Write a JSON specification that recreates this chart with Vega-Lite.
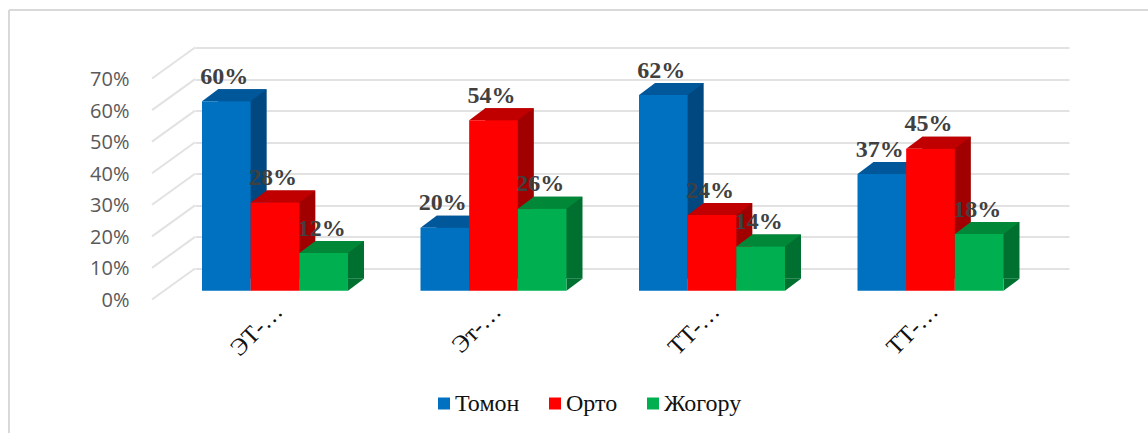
{"$schema":"https://vega.github.io/schema/vega-lite/v6.json","width":874,"height":221,"autosize":{"type":"none"},"padding":{"left":195,"top":47.5,"right":79,"bottom":164.5},"background":"white","config":{"view":{"stroke":null}},
"datasets":{"bars":[
{"cat":"ЭТ-…","series":"Томон","value":0.60},{"cat":"ЭТ-…","series":"Орто","value":0.28},{"cat":"ЭТ-…","series":"Жогору","value":0.12},
{"cat":"Эт-…","series":"Томон","value":0.20},{"cat":"Эт-…","series":"Орто","value":0.54},{"cat":"Эт-…","series":"Жогору","value":0.26},
{"cat":"ТТ-…","series":"Томон","value":0.62},{"cat":"ТТ-…","series":"Орто","value":0.24},{"cat":"ТТ-…","series":"Жогору","value":0.14},
{"cat":"ТТ-… ","series":"Томон","value":0.37},{"cat":"ТТ-… ","series":"Орто","value":0.45},{"cat":"ТТ-… ","series":"Жогору","value":0.18}],
"ticks":[{"tick":0},{"tick":0.1},{"tick":0.2},{"tick":0.3},{"tick":0.4},{"tick":0.5},{"tick":0.6},{"tick":0.7}]},
"data":{"name":"bars"},
"encoding":{
"x":{"field":"cat","type":"nominal","sort":null,"title":null,"scale":{"domain":["ЭТ-…","Эт-…","ТТ-…","ТТ-… "],"paddingInner":0.332,"paddingOuter":0.166,"align":0.0966},"axis":{"domain":false,"ticks":false,"labelAngle":-45,"labelAlign":"right","labelBaseline":"middle","labelPadding":39,"labelOffset":4,"labelFont":"Liberation Serif","labelFontSize":24,"labelColor":"#111111","zindex":0}},
"y":{"field":"value","type":"quantitative","stack":null,"title":null,"scale":{"domain":[0,0.7],"nice":false},"axis":{"format":".0%","values":[0,0.1,0.2,0.3,0.4,0.5,0.6,0.7],"domain":false,"ticks":false,"grid":true,"gridColor":"#e2e2e2","gridWidth":2,"labelPadding":66,"labelOffset":32,"labelFont":"Open Sans","labelFontSize":20,"labelColor":"#595959"}},
"xOffset":{"field":"series","type":"nominal","scale":{"domain":["Томон","Орто","Жогору"],"paddingInner":0,"paddingOuter":0}}
},
"layer":[
{"data":{"name":"ticks"},"mark":{"type":"point","shape":"M0,0L-43,31","size":4,"filled":false,"stroke":"#e2e2e2","strokeWidth":2,"opacity":1,"xOffset":-7},"encoding":{"x":{"datum":"ЭТ-…","bandPosition":0},"y":{"field":"tick","type":"quantitative"},"xOffset":null}},
{"mark":{"type":"rule","stroke":"#d9d9d9","strokeWidth":1.5,"xOffset":-193,"x2Offset":-193,"yOffset":-37.5,"y2Offset":165},"encoding":{"x":{"datum":"ЭТ-…","bandPosition":0},"y":{"datum":0.7},"y2":{"datum":0},"xOffset":null}},
{"mark":{"type":"rule","stroke":"#d9d9d9","strokeWidth":1.5,"xOffset":-193,"x2Offset":150,"yOffset":-37.5,"y2Offset":-37.5},"encoding":{"x":{"datum":"ЭТ-…","bandPosition":0},"x2":{"datum":"ТТ-… ","bandPosition":1},"y":{"datum":0.7},"xOffset":null}},
{"mark":{"type":"bar","yOffset":10.3,"y2Offset":10.3},"encoding":{"xOffset":{"field":"series","type":"nominal","scale":{"domain":["Томон","Орто","Жогору"],"range":[16,162]}},"y2":{"datum":0},"color":{"field":"series","type":"nominal","legend":null,"scale":{"domain":["Томон","Орто","Жогору"],"range":["#00487f","#a00000","#007030"]}}}},
{"mark":{"type":"point","shape":"M24.3,0L40.3,-12L24.3,-12Z","size":4,"filled":true,"opacity":1,"yOffset":22.3},"encoding":{"y":{"datum":0},"xOffset":{"field":"series","type":"nominal","scale":{"domain":["Томон","Орто","Жогору"],"range":[0,146]}},"color":{"field":"series","type":"nominal","legend":null,"scale":{"domain":["Томон","Орто","Жогору"],"range":["#00487f","#a00000","#007030"]}}}},
{"mark":{"type":"point","shape":"M-24.3,0L24.3,0L40.3,-12L-8.3,-12Z","size":4,"filled":true,"opacity":1,"yOffset":22.3},"encoding":{"xOffset":{"field":"series","type":"nominal","scale":{"domain":["Томон","Орто","Жогору"],"range":[0,146]}},"color":{"field":"series","type":"nominal","legend":null,"scale":{"domain":["Томон","Орто","Жогору"],"range":["#00589b","#c00000","#008838"]}}}},
{"mark":{"type":"bar","yOffset":22.3,"y2Offset":22.3},"encoding":{"y2":{"datum":0},"color":{"field":"series","type":"nominal","title":null,"scale":{"domain":["Томон","Орто","Жогору"],"range":["#0070c0","#ff0000","#00b050"]},"legend":{"orient":"none","direction":"horizontal","legendX":237,"legendY":344,"symbolType":"square","symbolSize":144,"symbolStrokeWidth":0,"labelFont":"Liberation Serif","labelFontSize":24,"labelColor":"#111111","labelOffset":-1,"columnPadding":23}}}},
{"mark":{"type":"text","font":"Liberation Serif","fontWeight":"bold","fontSize":24,"fill":"#404040","baseline":"alphabetic","align":"center","dx":-2,"yOffset":5},"encoding":{"xOffset":{"field":"series","type":"nominal","scale":{"domain":["Томон","Орто","Жогору"],"range":[0,146]}},"text":{"field":"value","type":"quantitative","format":".0%"}}}
],
"resolve":{"scale":{"color":"independent","xOffset":"independent"}}}
